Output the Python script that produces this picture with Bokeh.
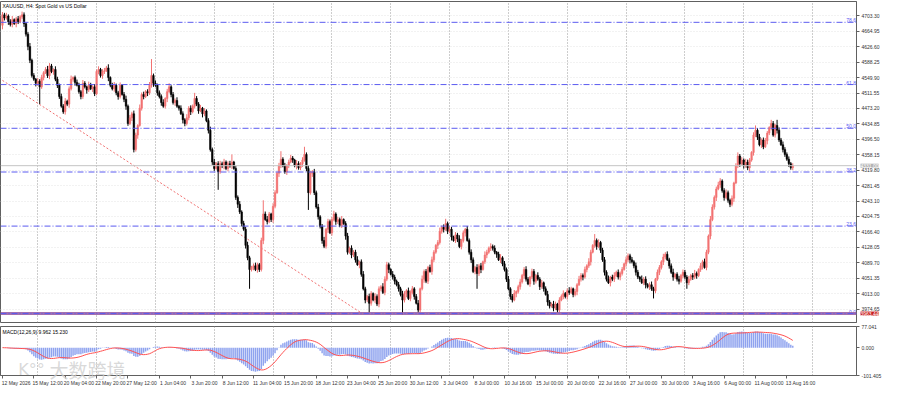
import numpy as np
import pandas as pd
from bokeh.plotting import figure
from bokeh.models import (Range1d, FixedTicker, PrintfTickFormatter, Label, Span, Grid)
from bokeh.layouts import column
from bokeh.embed import file_html
from bokeh.resources import INLINE

# ---------------- data ----------------
symbol_title = "XAUUSD, H4: Spot Gold vs US Dollar"
macd_title = "MACD(12,26,9) 9.962 15.230"
watermark = "大数跨境"
watermark_logo = "K°°"

first_open = 4680
closes = [
    4706, 4698, 4703, 4689, 4682, 4694, 4684, 4696, 4689, 4701, 4706, 4684, 4658, 4627, 4593, 4555,
    4546, 4536, 4541, 4527, 4550, 4562, 4570, 4555, 4579, 4565, 4570, 4546, 4531, 4503, 4479, 4465,
    4491, 4484, 4522, 4546, 4550, 4538, 4531, 4515, 4503, 4536, 4527, 4519, 4531, 4522, 4527, 4510,
    4565, 4570, 4555, 4565, 4567, 4574, 4550, 4531, 4522, 4531, 4512, 4503, 4531, 4508, 4496, 4479,
    4436, 4450, 4460, 4371, 4407, 4431, 4474, 4508, 4503, 4515, 4512, 4531, 4555, 4536, 4531, 4512,
    4503, 4488, 4479, 4498, 4515, 4527, 4508, 4488, 4493, 4479, 4474, 4460, 4445, 4436, 4450, 4474,
    4465, 4479, 4498, 4484, 4467, 4474, 4460, 4467, 4443, 4419, 4371, 4340, 4324, 4336, 4316, 4336,
    4331, 4340, 4324, 4336, 4331, 4340, 4324, 4252, 4235, 4216, 4187, 4173, 4133, 4102, 4073, 4078,
    4082, 4073, 4085, 4073, 4145, 4211, 4197, 4192, 4211, 4197, 4230, 4264, 4312, 4331, 4347, 4331,
    4316, 4331, 4340, 4350, 4345, 4331, 4336, 4326, 4336, 4345, 4359, 4324, 4264, 4312, 4316, 4264,
    4228, 4204, 4180, 4145, 4131, 4173, 4192, 4164, 4197, 4211, 4192, 4197, 4183, 4197, 4187, 4156,
    4116, 4126, 4109, 4116, 4097, 4085, 4092, 4061, 4025, 3997, 4006, 3989, 4013, 3997, 4006, 3987,
    4025, 4030, 4016, 4049, 4085, 4073, 4061, 4054, 4044, 4035, 4025, 4011, 3997, 4013, 4020, 4001,
    4016, 4025, 4006, 3989, 3972, 4025, 4049, 4068, 4044, 4078, 4068, 4097, 4116, 4133, 4140, 4168,
    4178, 4173, 4187, 4168, 4173, 4154, 4145, 4159, 4149, 4130, 4145, 4164, 4173, 4145, 4116, 4097,
    4068, 4078, 4063, 4082, 4073, 4092, 4109, 4116, 4126, 4130, 4126, 4116, 4111, 4097, 4102, 4087,
    4073, 4049, 4025, 4006, 3997, 4013, 4018, 4030, 4042, 4058, 4073, 4049, 4037, 4054, 4068, 4044,
    4058, 4049, 4030, 4040, 4025, 4011, 3992, 3982, 3987, 3977, 3987, 3972, 3997, 4006, 4013, 4006,
    4020, 4016, 4025, 4011, 4018, 4035, 4049, 4058, 4054, 4073, 4082, 4092, 4116, 4133, 4145, 4130,
    4140, 4121, 4097, 4066, 4049, 4040, 4054, 4049, 4058, 4066, 4054, 4063, 4073, 4087, 4097, 4107,
    4097, 4092, 4082, 4066, 4054, 4049, 4040, 4049, 4035, 4030, 4035, 4025, 4020, 4049, 4066, 4078,
    4092, 4104, 4111, 4097, 4082, 4066, 4054, 4061, 4049, 4044, 4058, 4066, 4054, 4040, 4049, 4058,
    4054, 4063, 4058, 4073, 4082, 4092, 4078, 4116, 4156, 4197, 4228, 4252, 4273, 4283, 4293, 4269,
    4252, 4264, 4245, 4235, 4250, 4288, 4331, 4355, 4336, 4345, 4331, 4340, 4326, 4345, 4364, 4407,
    4419, 4402, 4383, 4395, 4378, 4393, 4412, 4426, 4436, 4407, 4431, 4419, 4395, 4383, 4371, 4359,
    4347, 4336, 4326, 4331,
]
upper_wick = [
    7, 5, 8, 4, 6, 9, 3, 5, 7, 4, 8, 6, 3, 5, 9, 4,
    6, 3, 8, 5, 7, 4, 6, 9, 7, 5, 3, 8, 6, 4, 7, 5,
    8, 4, 6, 9, 3, 5, 7, 6, 4, 8, 5, 3, 9, 6, 4, 7,
    5, 8, 4, 6, 7, 5, 9, 3, 6, 8, 4, 5, 7, 3, 6, 9,
    4, 7, 5, 8, 6, 3, 9, 5, 7, 4, 6, 8, 41, 5, 7, 4,
    6, 5, 8, 3, 7, 9, 4, 6, 5, 8, 3, 7, 6, 4, 9, 5,
    7, 4, 14, 6, 5, 8, 3, 7, 4, 6, 9, 5, 8, 4, 6, 7,
    5, 8, 4, 6, 7, 19, 3, 6, 5, 8, 4, 7, 6, 9, 5, 4,
    6, 8, 5, 4, 7, 34, 6, 9, 5, 3, 8, 6, 4, 7, 20, 5,
    7, 4, 6, 8, 5, 3, 9, 6, 4, 7, 19, 5, 8, 6, 4, 7,
    5, 8, 4, 6, 9, 3, 7, 5, 6, 8, 4, 7, 5, 9, 3, 6,
    8, 4, 7, 5, 6, 9, 3, 6, 8, 5, 4, 7, 6, 3, 8, 5,
    6, 4, 9, 7, 7, 5, 3, 8, 6, 4, 7, 5, 9, 6, 4, 8,
    5, 7, 4, 6, 8, 3, 9, 5, 6, 4, 7, 8, 5, 3, 6, 9,
    4, 7, 12, 5, 8, 6, 3, 7, 5, 9, 4, 6, 3, 8, 5, 7,
    6, 4, 8, 5, 7, 3, 9, 6, 4, 8, 5, 7, 3, 6, 9, 4,
    7, 5, 8, 4, 6, 9, 3, 5, 7, 4, 6, 8, 5, 3, 7, 6,
    4, 8, 5, 7, 3, 6, 9, 5, 4, 8, 6, 3, 7, 5, 8, 4,
    6, 9, 5, 3, 7, 4, 8, 6, 5, 7, 4, 9, 6, 3, 16, 5,
    8, 4, 6, 7, 5, 9, 3, 6, 8, 4, 7, 5, 6, 3, 8, 6,
    5, 7, 4, 8, 6, 3, 9, 5, 7, 4, 6, 8, 5, 3, 7, 6,
    4, 8, 5, 7, 5, 6, 9, 3, 5, 8, 4, 7, 6, 5, 8, 4,
    6, 9, 5, 3, 7, 5, 8, 6, 4, 9, 7, 5, 6, 8, 7, 4,
    6, 8, 5, 4, 7, 3, 6, 9, 5, 7, 4, 8, 6, 5, 3, 7,
    12, 5, 8, 4, 6, 7, 5, 3, 9, 6, 4, 14, 7, 5, 8, 6,
    5, 7, 4, 6,
]
lower_wick = [
    10, 6, 4, 8, 5, 7, 3, 9, 6, 4, 5, 8, 6, 9, 7, 5,
    4, 8, 6, 43, 5, 7, 3, 6, 9, 4, 8, 5, 7, 6, 4, 5,
    7, 5, 9, 4, 6, 8, 3, 5, 7, 6, 4, 9, 5, 3, 8, 6,
    4, 7, 5, 8, 6, 3, 9, 5, 4, 7, 6, 8, 5, 3, 7, 9,
    6, 4, 8, 7, 5, 9, 3, 6, 7, 4, 8, 5, 6, 9, 4, 7,
    5, 8, 4, 6, 9, 3, 7, 5, 8, 4, 6, 3, 9, 7, 5, 6,
    8, 4, 6, 5, 7, 3, 9, 6, 4, 8, 5, 7, 6, 3, 45, 5,
    6, 9, 4, 7, 5, 8, 3, 6, 9, 5, 7, 4, 8, 6, 48, 5,
    7, 4, 8, 6, 5, 9, 3, 7, 4, 6, 8, 5, 3, 9, 6, 4,
    5, 8, 6, 3, 7, 4, 9, 5, 6, 8, 4, 7, 43, 5, 9, 6,
    4, 7, 5, 8, 5, 6, 9, 3, 7, 4, 8, 6, 5, 7, 3, 9,
    6, 4, 8, 5, 7, 3, 9, 6, 4, 8, 5, 24, 6, 3, 7, 5,
    8, 6, 4, 7, 5, 9, 3, 6, 8, 4, 7, 5, 36, 6, 9, 4,
    7, 5, 8, 3, 7, 6, 4, 9, 5, 7, 3, 8, 6, 4, 9, 5,
    6, 8, 4, 7, 5, 9, 3, 6, 8, 4, 7, 5, 9, 3, 6, 8,
    4, 7, 38, 6, 9, 3, 5, 8, 4, 7, 6, 5, 9, 3, 8, 6,
    5, 7, 4, 8, 6, 3, 9, 5, 7, 4, 8, 6, 3, 7, 5, 9,
    6, 4, 8, 5, 7, 3, 9, 6, 4, 8, 5, 7, 6, 3, 7, 5,
    8, 6, 4, 7, 5, 9, 3, 6, 8, 4, 7, 5, 9, 3, 6, 8,
    4, 7, 5, 8, 6, 3, 9, 5, 7, 4, 6, 8, 5, 3, 7, 6,
    9, 4, 6, 8, 5, 7, 3, 6, 9, 4, 8, 5, 19, 6, 4, 7,
    5, 8, 6, 3, 7, 4, 9, 5, 6, 8, 4, 7, 5, 15, 6, 4,
    7, 5, 8, 4, 6, 9, 3, 7, 5, 8, 4, 6, 9, 3, 7, 5,
    8, 4, 6, 7, 5, 9, 3, 6, 8, 4, 7, 5, 6, 9, 4, 8,
    5, 7, 4, 8, 6, 3, 9, 5, 7, 4, 6, 8, 5, 3, 7, 6,
    4, 8, 5, 6,
]

price_ticks = [3974.65, 4013.00, 4051.35, 4089.70, 4128.05, 4166.40, 4204.75, 4243.10,
               4281.45, 4319.80, 4358.15, 4396.50, 4434.85, 4473.20, 4511.55, 4549.90,
               4588.25, 4626.60, 4664.95, 4703.30]
macd_ticks = [-101.405, 0.0, 77.041]

fib_low = 3963.44
fib_high = 4884.44
fib_ratios = [0.0, 23.6, 38.2, 50.0, 61.8, 78.6]

trend_bars = [0, 183.5]
trend_prices = [4543, 3963.44]

date_labels = ["12 May 2026", "15 May 12:00", "20 May 04:00", "22 May 20:00", "27 May 12:00",
               "1 Jun 04:00", "3 Jun 20:00", "8 Jun 12:00", "11 Jun 04:00", "15 Jun 20:00",
               "18 Jun 12:00", "23 Jun 04:00", "25 Jun 20:00", "30 Jun 12:00", "3 Jul 04:00",
               "8 Jul 00:00", "10 Jul 16:00", "15 Jul 00:00", "20 Jul 00:00", "22 Jul 16:00",
               "27 Jul 00:00", "30 Jul 00:00", "3 Aug 16:00", "6 Aug 00:00", "11 Aug 00:00",
               "13 Aug 16:00"]
bars_per_label = 16
label_shift = 7
grid_bars = [18, 48, 78, 108, 138, 168, 198, 228, 258, 288, 318, 348, 378, 413]

# ---------------- derived series ----------------
n = len(closes)
idx = np.arange(n)
c = np.array(closes, dtype=float)
o = np.concatenate([[first_open], c[:-1]])
h = np.maximum(o, c) + np.array(upper_wick, dtype=float)
l = np.minimum(o, c) - np.array(lower_wick, dtype=float)
up = c >= o
UP_COL = "#f27272"
DN_COL = "#000000"
colors = np.where(up, UP_COL, DN_COL).tolist()


def ema(x, span):
    a = 2.0 / (span + 1)
    out = np.empty_like(x)
    out[0] = x[0]
    for i in range(1, len(x)):
        out[i] = a * x[i] + (1 - a) * out[i - 1]
    return out


macd = ema(c, 12) - ema(c, 26)
signal = pd.Series(macd).rolling(9, min_periods=1).mean().values

FONT = "Liberation Sans"
FS = "5px"
FRAME_W = 856
X_RANGE = Range1d(-1, 435.5)
BLUE = "#5b5bf0"

# ---------------- main pane ----------------
p = figure(frame_width=FRAME_W, frame_height=321, x_range=X_RANGE,
           y_range=Range1d(3941.2, 4739.1), output_backend="svg", toolbar_location=None,
           x_axis_location=None, y_axis_location="right",
           min_border_left=0, min_border_right=0, min_border_top=1, min_border_bottom=2,
           background_fill_color="white", border_fill_color="white")
p.outline_line_color = "#606060"
p.xgrid.visible = False
p.ygrid.visible = False
p.add_layout(Grid(dimension=0, ticker=FixedTicker(ticks=grid_bars),
                  grid_line_color="#9a9a9a", grid_line_dash="1 2", grid_line_width=1))
p.add_layout(Grid(dimension=1, ticker=FixedTicker(ticks=price_ticks),
                  grid_line_color="#e4e4e4", grid_line_dash="1 2", grid_line_width=1))

ya = p.yaxis[0]
ya.ticker = FixedTicker(ticks=price_ticks)
ya.formatter = PrintfTickFormatter(format="%.2f")
ya.major_label_text_font = FONT
ya.major_label_text_font_size = FS
ya.major_label_text_color = "#333333"
ya.major_tick_out = 3
ya.major_tick_in = 0
ya.minor_tick_out = 0
ya.minor_tick_in = 0
ya.major_label_standoff = 2
ya.axis_line_color = "#606060"
ya.major_tick_line_color = "#606060"

# fibonacci levels
fib_levels = [fib_low + r / 100.0 * (fib_high - fib_low) for r in fib_ratios]
p.add_layout(Span(location=fib_low, dimension="width", line_color="#9a62a6", line_width=3, line_alpha=0.9))
for lv in fib_levels:
    p.add_layout(Span(location=lv, dimension="width", line_color=BLUE, line_width=1, line_dash="6 2 1 2"))
p.text(x=[X_RANGE.end - 0.3] * len(fib_levels), y=fib_levels, text=["%.1f" % r for r in fib_ratios],
       text_align="right", text_baseline="bottom", text_font_size=FS, text_color=BLUE,
       text_font={"value": FONT})

# bid line
p.add_layout(Span(location=c[-1], dimension="width", line_color="#c4c4c4", line_width=1))

# trend line
p.line(trend_bars, trend_prices, line_color="#f07070", line_width=1, line_dash="2 2")

# candles
p.segment(x0=idx, y0=h, x1=idx, y1=l, line_color=colors, line_width=1)
p.vbar(x=idx, width=0.8, top=np.maximum(o, c), bottom=np.minimum(o, c),
       fill_color=colors, line_color=colors, line_width=0.5)

p.add_layout(Label(x=X_RANGE.start, y=4739.1, x_offset=2, y_offset=-1, text=symbol_title,
                   text_baseline="top", text_font=FONT, text_font_size=FS, text_color="#000000"))

# price boxes over the axis area (side-panel annotations are not clipped to the frame)
p.add_layout(Label(x=X_RANGE.end, y=c[-1], x_offset=4, text="%.2f" % c[-1],
                   text_baseline="middle", text_font=FONT, text_font_size=FS, text_color="white",
                   background_fill_color="#b4b4b4"), "right")
p.add_layout(Label(x=X_RANGE.end, y=fib_low, x_offset=4, text="%.2f" % fib_low,
                   text_baseline="middle", text_font=FONT, text_font_size=FS, text_color="white",
                   background_fill_color="#c81e1e"), "right")

# ---------------- MACD pane ----------------
m = figure(frame_width=FRAME_W, frame_height=49, x_range=X_RANGE,
           y_range=Range1d(macd_ticks[0], macd_ticks[-1]), output_backend="svg", toolbar_location=None,
           x_axis_location="below", y_axis_location="right",
           min_border_left=0, min_border_right=0, min_border_top=2, min_border_bottom=0,
           background_fill_color="white", border_fill_color="white")
m.outline_line_color = "#606060"
m.xgrid.visible = False
m.ygrid.visible = False
m.add_layout(Grid(dimension=0, ticker=FixedTicker(ticks=grid_bars),
                  grid_line_color="#9a9a9a", grid_line_dash="1 2", grid_line_width=1))

m.vbar(x=idx, width=0.75, top=macd, bottom=0, fill_color="#8fa3ef", line_color=None)
m.line(idx, signal, line_color="#ff5050", line_width=1)

my = m.yaxis[0]
my.ticker = FixedTicker(ticks=macd_ticks)
my.formatter = PrintfTickFormatter(format="%.3f")
my.major_label_text_font = FONT
my.major_label_text_font_size = FS
my.major_label_text_color = "#333333"
my.major_tick_out = 3
my.major_tick_in = 0
my.major_label_standoff = 2
my.axis_line_color = "#606060"
my.major_tick_line_color = "#606060"

major = [k * bars_per_label + label_shift for k in range(len(date_labels))]
minor = [k * bars_per_label for k in range(len(date_labels))]
mx = m.xaxis[0]
mx.ticker = FixedTicker(ticks=major, minor_ticks=minor)
mx.major_label_overrides = {t: lab for t, lab in zip(major, date_labels)}
mx.major_label_text_font = FONT
mx.major_label_text_font_size = FS
mx.major_label_text_color = "#333333"
mx.major_tick_out = 0
mx.major_tick_in = 0
mx.minor_tick_out = 3
mx.minor_tick_in = 0
mx.major_label_standoff = 1
mx.axis_line_color = "#606060"
mx.minor_tick_line_color = "#606060"

m.add_layout(Label(x=X_RANGE.start, y=macd_ticks[-1], x_offset=2, y_offset=-2, text=macd_title,
                   text_baseline="top", text_font=FONT, text_font_size=FS, text_color="#000000"))
# watermark, overlapping the bottom of the pane and the time axis like in the picture
m.add_layout(Label(x=8, y=-78, text=watermark_logo, text_baseline="middle",
                   text_font="DejaVu Sans", text_font_size="16px", text_color="#cfcfcf",
                   text_alpha=0.8), "below")
m.add_layout(Label(x=24, y=-78, text=watermark, text_baseline="middle",
                   text_font="Noto Sans CJK SC", text_font_size="19px", text_color="#cfcfcf",
                   text_alpha=0.8), "below")

layout = column(p, m, spacing=0)
open("out.html", "w").write(file_html(layout, INLINE))
